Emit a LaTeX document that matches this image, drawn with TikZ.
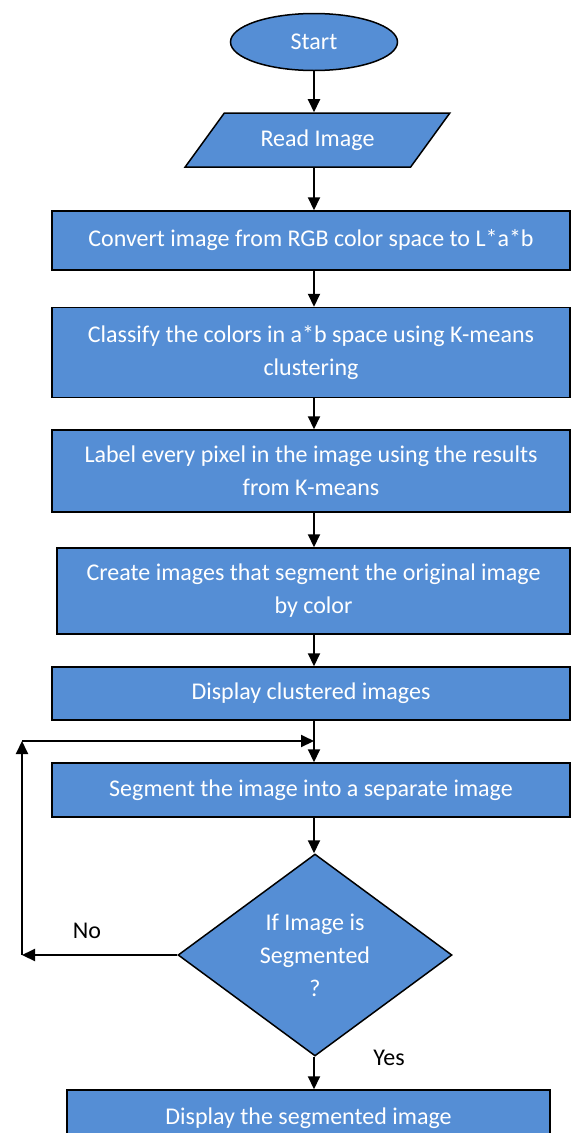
\documentclass[tikz,border=0pt]{standalone}
\usepackage{fontspec}
\setmainfont{Carlito}
\definecolor{fcblue}{RGB}{85,142,213}
\usetikzlibrary{arrows.meta,positioning,shapes.geometric}
\begin{document}
\begin{tikzpicture}[x=1pt,y=-1pt,
  bx/.style={draw,line width=1.5pt,fill=fcblue,text=white,align=center,inner sep=2pt,font=\fontsize{24}{33}\selectfont},
  lbl/.style={font=\fontsize{24}{33}\selectfont},
  arr/.style={-{Triangle[length=13pt,width=12pt]},line width=2pt}]
  \useasboundingbox (0,0) rectangle (571,1133);
  \node[bx,ellipse,minimum width=167pt,minimum height=57pt] (start) at (314,42) {Start};
  \node[bx,trapezium,trapezium left angle=45,trapezium right angle=135,trapezium stretches=true,minimum width=265pt,minimum height=54pt] (read) at (317.5,140) {Read Image};
  \node[bx,minimum width=518pt,minimum height=59pt] (conv) at (311,240.5) {Convert image from RGB color space to L*a*b};
  \node[bx,minimum width=518pt,minimum height=90pt] (classify) at (311,352.5) {Classify the colors in a*b space using K-means\\clustering};
  \node[bx,minimum width=518pt,minimum height=82pt] (label) at (311,471) {Label every pixel in the image using the results\\from K-means};
  \node[bx,minimum width=513pt,minimum height=86pt] (create) at (313.5,591) {Create images that segment the original image\\by color};
  \node[bx,minimum width=518pt,minimum height=53pt] (disp) at (311,693.5) {Display clustered images};
  \node[bx,minimum width=518pt,minimum height=54pt] (segm) at (311,790) {Segment the image into a separate image};
  \node[bx,diamond,minimum width=274pt,minimum height=202pt] (check) at (315,955) {If Image is\\Segmented\\?};
  \node[bx,minimum width=483pt,minimum height=56pt] (result) at (308.5,1118) {Display the segmented image};
  \node[lbl] (no) at (87,931) {No};
  \node[lbl] (yes) at (389,1058) {Yes};
  \coordinate (nol) at (22,955);
  \coordinate (noup) at (22,741);
  \coordinate (join) at (314,741);
  \draw[arr] (start) -- (start |- read.north);
  \draw[arr] (read.south -| start) -- (start |- conv.north);
  \draw[arr] (conv.south -| start) -- (start |- classify.north);
  \draw[arr] (classify.south -| start) -- (start |- label.north);
  \draw[arr] (label.south -| start) -- (start |- create.north);
  \draw[arr] (create.south -| start) -- (start |- disp.north);
  \draw[arr] (disp.south -| start) -- (start |- segm.north);
  \draw[arr] (segm.south -| start) -- (start |- check.north);
  \draw[arr] (check.west) -- (nol);
  \draw[arr] (nol) -- (noup);
  \draw[arr] (noup) -- (join);
  \draw[arr] (check.south -| start) -- (start |- result.north);
\end{tikzpicture}
\end{document}
